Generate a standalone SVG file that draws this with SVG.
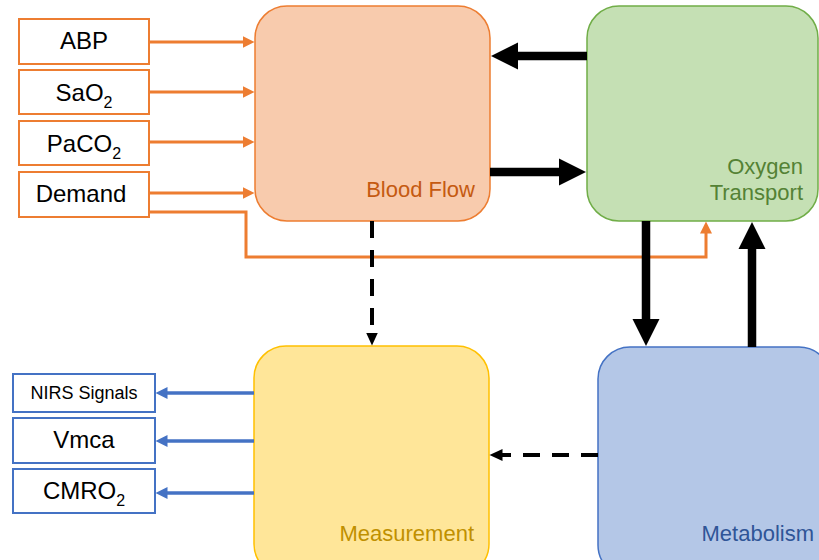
<svg xmlns="http://www.w3.org/2000/svg" width="819" height="560" viewBox="0 0 819 560">
<style>
text{font-family:"Liberation Sans",Arial,sans-serif}
.in{fill:#fff;stroke:#ED7D31;stroke-width:2}
.out{fill:#fff;stroke:#4472C4;stroke-width:2}
.lbl{font-size:24px;fill:#000;text-anchor:middle}
.o{fill:none;stroke:#ED7D31;stroke-width:3}
.b{fill:none;stroke:#4472C4;stroke-width:3.5}
.k{fill:none;stroke:#000;stroke-width:8.5}
.d{fill:none;stroke:#000;stroke-width:4;stroke-dasharray:17 12}
.big{font-size:22px;text-anchor:end}
</style>
<defs>
<marker id="ao" markerUnits="userSpaceOnUse" markerWidth="13" markerHeight="13" viewBox="0 -6.5 13 13" refX="0.5" refY="0" orient="auto"><path d="M0,-6 L12,0 L0,6 Z" fill="#ED7D31"/></marker>
<marker id="ab" markerUnits="userSpaceOnUse" markerWidth="13" markerHeight="13" viewBox="0 -6.5 13 13" refX="0.5" refY="0" orient="auto"><path d="M0,-6 L12,0 L0,6 Z" fill="#4472C4"/></marker>
<marker id="ak" markerUnits="userSpaceOnUse" markerWidth="28" markerHeight="28" viewBox="0 -14 28 28" refX="1" refY="0" orient="auto"><path d="M0,-13.5 L27,0 L0,13.5 Z" fill="#000"/></marker>
<marker id="ad" markerUnits="userSpaceOnUse" markerWidth="14" markerHeight="14" viewBox="0 -7 14 14" refX="0.5" refY="0" orient="auto"><path d="M0,-6 L13,0 L0,6 Z" fill="#000"/></marker>
</defs>

<g id="blood-flow">
<rect x="255" y="6" width="235" height="215" rx="32" fill="#F8CBAD" stroke="#ED7D31" stroke-width="1.5"/>
<text class="big" x="475" y="197" fill="#C55A11">Blood Flow</text>
</g>
<g id="oxygen-transport">
<rect x="587" y="6" width="231" height="215" rx="32" fill="#C5E0B4" stroke="#70AD47" stroke-width="1.5"/>
<text class="big" x="803" y="174" fill="#548235">Oxygen</text>
<text class="big" x="803" y="200" fill="#548235">Transport</text>
</g>
<g id="measurement">
<rect x="254" y="346" width="235" height="230" rx="32" fill="#FFE699" stroke="#FFC000" stroke-width="1.5"/>
<text class="big" x="474" y="541" fill="#BF9000">Measurement</text>
</g>
<g id="metabolism">
<rect x="598" y="347" width="233" height="230" rx="32" fill="#B4C7E7" stroke="#4472C4" stroke-width="1.5"/>
<text class="big" x="814" y="541" fill="#2F5597">Metabolism</text>
</g>

<g id="abp"><rect class="in" x="19" y="19" width="130" height="45"/><text class="lbl" x="84" y="49">ABP</text></g>
<g id="sao2"><rect class="in" x="19" y="70" width="130" height="44"/><text class="lbl" x="84" y="101">SaO<tspan font-size="16" dy="7">2</tspan></text></g>
<g id="paco2"><rect class="in" x="19" y="121" width="130" height="44"/><text class="lbl" x="84" y="152">PaCO<tspan font-size="16" dy="7">2</tspan></text></g>
<g id="demand"><rect class="in" x="19" y="172" width="130" height="45"/><text class="lbl" x="81" y="202">Demand</text></g>

<g id="nirs"><rect class="out" x="13" y="374" width="142" height="38"/><text class="lbl" x="84" y="399" font-size="18" style="font-size:18px">NIRS Signals</text></g>
<g id="vmca"><rect class="out" x="13" y="418" width="142" height="45"/><text class="lbl" x="84" y="448">Vmca</text></g>
<g id="cmro2"><rect class="out" x="13" y="469" width="142" height="44"/><text class="lbl" x="84" y="499">CMRO<tspan font-size="16" dy="7">2</tspan></text></g>

<g id="connectors">
<line class="o" x1="149" y1="42" x2="243" y2="42" marker-end="url(#ao)"/>
<line class="o" x1="149" y1="92" x2="243" y2="92" marker-end="url(#ao)"/>
<line class="o" x1="149" y1="142" x2="243" y2="142" marker-end="url(#ao)"/>
<line class="o" x1="149" y1="193" x2="243" y2="193" marker-end="url(#ao)"/>
<polyline class="o" points="149,212 246,212 246,257 706,257 706,233" marker-end="url(#ao)"/>

<line class="k" x1="587" y1="56" x2="517" y2="56" marker-end="url(#ak)"/>
<line class="k" x1="490" y1="172" x2="560" y2="172" marker-end="url(#ak)"/>
<line class="k" x1="646" y1="221" x2="646" y2="320" marker-end="url(#ak)"/>
<line class="k" x1="752" y1="347" x2="752" y2="248" marker-end="url(#ak)"/>

<line class="d" x1="372" y1="221" x2="372" y2="333" marker-end="url(#ad)"/>
<line class="d" x1="598" y1="455" x2="502" y2="455" marker-end="url(#ad)"/>

<line class="b" x1="254" y1="393" x2="167" y2="393" marker-end="url(#ab)"/>
<line class="b" x1="254" y1="441" x2="167" y2="441" marker-end="url(#ab)"/>
<line class="b" x1="254" y1="493" x2="167" y2="493" marker-end="url(#ab)"/>
</g>
</svg>
